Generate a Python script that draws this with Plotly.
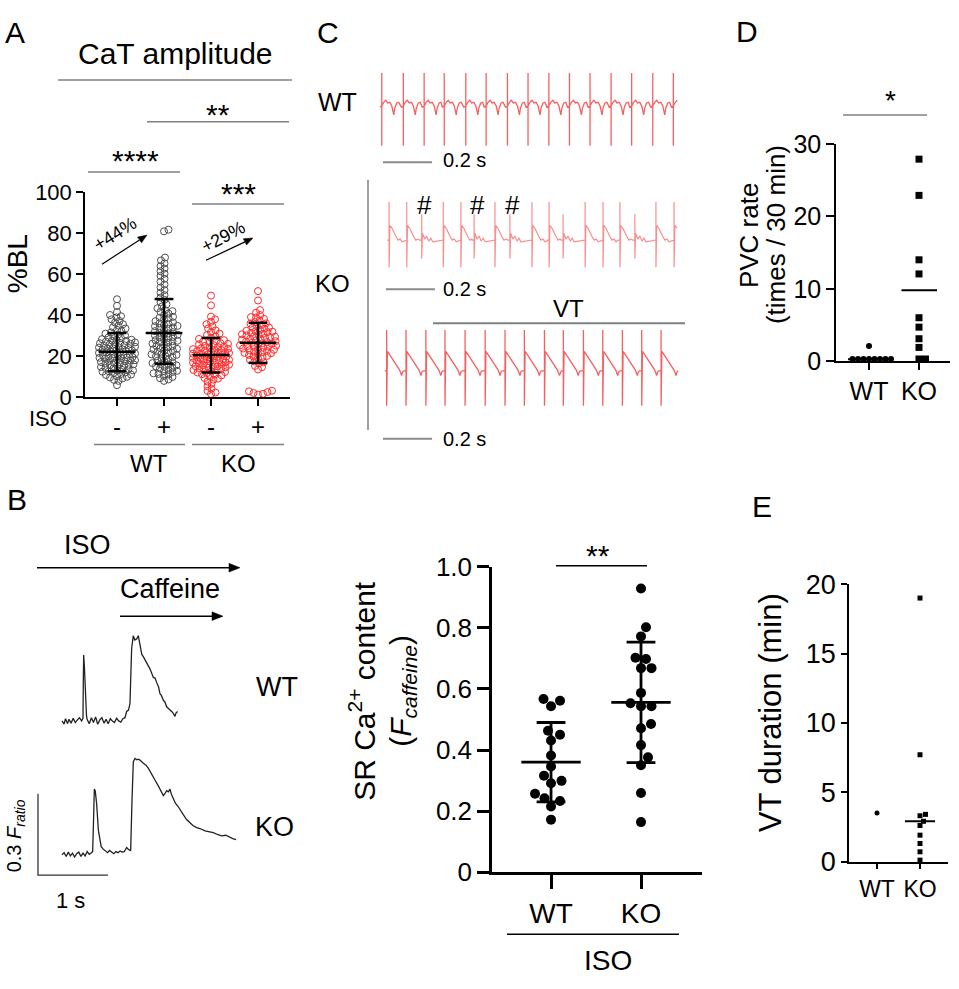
import math
import plotly.graph_objects as go

W, H = 959, 989
FONT = "Arial, 'Liberation Sans', sans-serif"

# ---------------- DATA ----------------
# Panel A: CaT amplitude (%BL)
a_groups = ["WT -", "WT +", "KO -", "KO +"]
a_iso = ["-", "+", "-", "+"]
a_wt_minus = [5.8, 7.9, 8.4, 9.1, 9.6, 9.9, 10.2, 10.8, 11.0, 11.3, 11.7, 12.1, 12.4, 12.6, 12.9, 13.0, 13.3, 13.6,
              14.0, 14.2, 14.7, 15.1, 15.3, 15.6, 15.8, 16.0, 16.4, 16.6, 16.9, 17.1, 17.4, 17.6, 17.8, 18.0, 18.3,
              18.7, 18.9, 19.0, 19.2, 19.4, 19.6, 19.9, 20.2, 20.5, 20.7, 20.9, 21.0, 21.3, 21.6, 21.8, 21.9, 22.2,
              22.4, 22.6, 22.8, 23.0, 23.3, 23.7, 23.9, 24.0, 24.2, 24.4, 24.6, 25.0, 25.3, 25.6, 25.8, 26.0, 26.3,
              26.5, 26.7, 27.1, 27.4, 27.6, 27.9, 28.0, 28.3, 28.8, 29.2, 29.7, 30.1, 30.6, 31.0, 31.6, 32.2, 32.8,
              33.5, 34.1, 34.9, 35.6, 36.4, 37.2, 38.0, 38.9, 39.5, 40.1, 41.5, 44.6, 47.8]
a_wt_plus = [7.9, 8.6, 9.2, 9.8, 10.3, 11.0, 11.3, 11.6, 12.2, 12.6, 12.8, 13.3, 13.9, 14.4, 14.8, 15.0, 15.5, 15.9,
             16.1, 16.6, 17.0, 17.2, 17.8, 18.3, 18.9, 19.5, 19.9, 20.0, 20.6, 20.9, 21.1, 21.7, 22.2, 22.5, 22.8,
             23.3, 23.6, 23.9, 24.4, 24.9, 25.0, 25.5, 26.1, 26.6, 26.9, 27.2, 27.5, 27.8, 28.3, 28.9, 29.1, 29.4,
             30.0, 30.4, 30.6, 31.1, 31.4, 31.7, 32.2, 32.8, 33.4, 33.8, 34.0, 34.6, 34.8, 35.2, 35.8, 36.0, 36.5,
             37.1, 37.8, 38.5, 38.8, 39.2, 40.0, 40.8, 41.6, 42.0, 42.5, 43.4, 44.3, 45.3, 46.4, 47.5, 48.6, 49.8,
             51.0, 52.3, 53.6, 55.0, 56.4, 57.8, 59.2, 60.3, 61.5, 62.8, 64.0, 65.3, 66.8, 68.2, 81.0, 81.8]
a_ko_minus = [1.5, 2.2, 3.0, 4.1, 5.3, 6.5, 7.6, 8.5, 9.0, 9.3, 10.0, 10.6, 10.9, 11.2, 11.7, 12.0, 12.2, 12.6, 13.0,
              13.2, 13.4, 13.8, 14.1, 14.3, 14.5, 14.8, 15.0, 15.1, 15.5, 15.8, 16.1, 16.2, 16.4, 16.7, 16.9, 17.0,
              17.3, 17.6, 17.8, 17.9, 18.2, 18.4, 18.5, 18.8, 19.0, 19.1, 19.4, 19.7, 19.9, 20.0, 20.3, 20.6, 20.8,
              20.9, 21.2, 21.4, 21.5, 21.8, 21.9, 22.1, 22.4, 22.7, 22.9, 23.0, 23.4, 23.6, 23.8, 24.2, 24.4, 24.6,
              25.0, 25.4, 25.8, 26.0, 26.3, 26.8, 27.0, 27.3, 27.8, 28.4, 29.0, 29.6, 30.3, 31.0, 31.8, 32.6, 33.5,
              34.5, 35.6, 36.8, 38.0, 39.3, 44.8, 49.6]
a_ko_plus = [1.2, 1.6, 2.0, 2.4, 2.8, 3.1, 13.5, 14.6, 15.2, 16.5, 17.0, 17.4, 18.2, 18.9, 19.5, 19.8, 20.1, 20.6,
             21.1, 21.4, 21.6, 22.0, 22.2, 22.5, 22.9, 23.1, 23.3, 23.7, 24.1, 24.5, 24.7, 24.9, 25.1, 25.3, 25.7,
             26.1, 26.3, 26.5, 26.9, 27.0, 27.3, 27.7, 28.1, 28.3, 28.5, 28.9, 29.3, 29.5, 29.7, 30.1, 30.5, 30.7,
             30.9, 31.4, 31.7, 31.9, 32.2, 32.4, 32.9, 33.4, 33.9, 34.0, 34.6, 35.2, 35.9, 36.0, 36.6, 37.4, 38.2,
             38.9, 39.1, 40.1, 41.2, 42.5, 47.2, 51.8]
a_mean = [22.1, 31.3, 20.5, 26.5]
a_sd_hi = [31.3, 47.9, 28.9, 36.3]
a_sd_lo = [12.6, 16.3, 12.0, 16.7]
a_ticks = [0, 20, 40, 60, 80, 100]

# Panel B (left): caffeine-induced Ca transients (time s, F ratio above baseline)
b_wt_t = [0.00, 0.03, 0.05, 0.08, 0.10, 0.13, 0.16, 0.19, 0.22, 0.25, 0.28, 0.30, 0.305, 0.31, 0.32, 0.335, 0.35,
          0.36, 0.39, 0.42, 0.45, 0.48, 0.51, 0.54, 0.57, 0.60, 0.63, 0.66, 0.69, 0.72, 0.75, 0.78, 0.81, 0.84, 0.87,
          0.90, 0.924, 0.95, 0.971, 0.995, 1.019, 1.04, 1.067, 1.09, 1.114, 1.14, 1.162, 1.19, 1.233, 1.26, 1.305,
          1.33, 1.352, 1.38, 1.40, 1.42, 1.448, 1.47, 1.495, 1.53, 1.567, 1.59, 1.614, 1.63, 1.652]
b_wt_f = [0.00, -0.012, 0.008, -0.01, 0.006, -0.008, 0.01, -0.006, 0.004, 0.012, 0.0, 0.01, 0.16, 0.243, 0.20, 0.06,
          0.02, 0.005, -0.01, 0.012, -0.006, 0.015, -0.012, 0.004, 0.012, -0.008, 0.006, -0.01, 0.008, 0.0, -0.006,
          0.01, 0.0, -0.004, 0.008, 0.012, 0.035, 0.04, 0.064, 0.267, 0.314, 0.298, 0.302, 0.314, 0.275, 0.245,
          0.237, 0.225, 0.202, 0.19, 0.160, 0.158, 0.142, 0.125, 0.100, 0.094, 0.076, 0.07, 0.052, 0.045, 0.035,
          0.028, 0.017, 0.03, 0.035]
b_ko_t = [0.00, 0.03, 0.06, 0.09, 0.12, 0.15, 0.18, 0.21, 0.24, 0.27, 0.30, 0.33, 0.36, 0.39, 0.42, 0.438, 0.45,
          0.462, 0.475, 0.495, 0.52, 0.543, 0.56, 0.59, 0.62, 0.65, 0.68, 0.71, 0.74, 0.77, 0.80, 0.83, 0.86, 0.89,
          0.924, 0.95, 0.981, 1.0, 1.019, 1.043, 1.07, 1.09, 1.114, 1.162, 1.20, 1.233, 1.27, 1.305, 1.34, 1.376,
          1.41, 1.448, 1.47, 1.495, 1.52, 1.543, 1.56, 1.59, 1.62, 1.662, 1.70, 1.733, 1.78, 1.829, 1.87, 1.924,
          1.98, 2.043, 2.10, 2.162, 2.22, 2.281, 2.34, 2.40, 2.44, 2.486]
b_ko_f = [0.0, 0.008, -0.006, 0.01, -0.004, 0.006, -0.008, 0.004, 0.01, -0.006, 0.006, -0.004, 0.012, 0.002, 0.008,
          0.012, 0.12, 0.242, 0.235, 0.188, 0.09, 0.045, 0.03, 0.021, 0.014, 0.008, 0.016, 0.01, 0.004, 0.012, 0.008,
          0.014, 0.01, 0.012, 0.027, 0.02, 0.015, 0.2, 0.343, 0.355, 0.35, 0.352, 0.349, 0.337, 0.33, 0.319, 0.30,
          0.283, 0.27, 0.254, 0.235, 0.218, 0.225, 0.236, 0.232, 0.242, 0.225, 0.206, 0.19, 0.177, 0.16, 0.148,
          0.13, 0.118, 0.108, 0.100, 0.096, 0.088, 0.084, 0.082, 0.075, 0.070, 0.072, 0.064, 0.06, 0.056]
b_scale_s = 1.0
b_scale_f = 0.3

# Panel B (right): SR Ca content
b_cats = ["WT", "KO"]
b_wt = [0.567, 0.543, 0.561, 0.450, 0.431, 0.463, 0.382, 0.346, 0.316, 0.299, 0.291, 0.257, 0.242, 0.233, 0.215, 0.172]
b_ko = [0.929, 0.802, 0.772, 0.698, 0.702, 0.668, 0.668, 0.587, 0.553, 0.543, 0.543, 0.471, 0.485, 0.416, 0.376,
        0.350, 0.259, 0.164]
b_mean = [0.360, 0.556]
b_sd = [0.130, 0.197]
b_ticks = [0, 0.2, 0.4, 0.6, 0.8, 1.0]
b_ticktext = ["0", "0.2", "0.4", "0.6", "0.8", "1.0"]

# Panel C: ECG (beat times in ms, beat waveform templates in ms / mV)
c_wt_beats = [7, 95, 180, 262, 350, 433, 520, 604, 689, 773, 857, 943, 1027, 1113, 1197]
c_wt_end = 1220
c_wt_tpl_ms = [-8, 0, 0, 0, 0, 8, 16, 24, 33, 41, 49, 53, 61, 69, 74]
c_wt_tpl_mv = [-0.03, 0.0, 0.97, -1.17, 0.0, 0.11, 0.17, 0.09, 0.11, 0.0, -0.26, -0.06, 0.09, 0.11, 0.03]

c_ko1_beats = [37, 109, 170, 258, 330, 384, 469, 530, 620, 690, 747, 837, 910, 979, 1040, 1126, 1200]
c_ko1_types = ["N", "N", "P", "N", "N", "P", "N", "P", "N", "N", "P", "N", "N", "N", "P", "N", "N"]
c_ko1_pvc = [170, 384, 530]
c_ko1_end = 1220
c_ko1_n_ms = [-8, 0, 0, 0, 3, 12, 20, 29, 37, 45, 53, 61, 69]
c_ko1_n_mv = [-0.06, -0.06, 1.06, -0.86, 0.37, 0.29, 0.14, 0.03, -0.06, -0.03, -0.11, -0.09, -0.14]
c_ko1_p_ms = [-8, 0, 0, 0, 3, 12, 20, 29, 37, 45]
c_ko1_p_mv = [-0.06, -0.06, 0.70, -0.60, 0.14, -0.03, 0.06, -0.09, 0.0, -0.11]

c_ko2_beats = [27, 106, 187, 265, 347, 429, 510, 589, 671, 748, 830, 909, 989, 1068, 1147]
c_ko2_end = 1220
c_ko2_tpl_ms = [-8, 0, 0, 0, 3, 16, 29, 41, 53, 61, 65, 70]
c_ko2_tpl_mv = [0.0, 0.0, 1.2, -1.03, 0.57, 0.43, 0.29, 0.14, 0.02, -0.14, -0.03, 0.0]
c_scale_ms = 200

# Panel D: PVC rate
d_cats = ["WT", "KO"]
d_wt = [2.1, 0.3, 0.3, 0.3, 0.3, 0.3, 0.3, 0.3, 0.3]
d_ko = [27.9, 22.9, 14.0, 12.05, 6.0, 4.7, 3.1, 1.9, 0.3, 0.3]
d_center = [0.25, 9.8]
d_ticks = [0, 10, 20, 30]

# Panel E: VT duration
e_cats = ["WT", "KO"]
e_wt = [3.5]
e_ko = [19.0, 7.7, 3.4, 3.3, 2.9, 2.6, 1.9, 1.3, 0.7, 0.1]
e_center_ko = 2.9
e_ticks = [0, 5, 10, 15, 20]


# ---------------- helpers ----------------
def swarm(vals, d, ppu, lim=60.0, step=0.5):
    """deterministic beeswarm; returns horizontal offsets in px"""
    order = sorted(range(len(vals)), key=lambda i: (vals[i], i))
    cands = [0.0]
    k = 1
    while k * step <= lim:
        cands += [k * step, -k * step]
        k += 1
    placed = []
    offs = [0.0] * len(vals)
    for i in order:
        y = vals[i] * ppu
        near = [(yy, xx) for yy, xx in placed if abs(yy - y) < d]
        chosen, best, bestc = None, -1, 0.0
        for c in cands:
            md = min((((c - xx) ** 2 + (y - yy) ** 2) ** 0.5 for yy, xx in near), default=1e9)
            if md >= d:
                chosen = c
                break
            if md > best:
                best, bestc = md, c
        if chosen is None:
            chosen = bestc
        placed.append((y, chosen))
        offs[i] = chosen
    return offs


def build_ecg(beats, tpls, types, t_end):
    xs, ys = [], []
    for k, b in enumerate(beats):
        nxt = beats[k + 1] if k + 1 < len(beats) else t_end + 8
        ms, mv = tpls[types[k]]
        for dt, v in zip(ms, mv):
            if b + dt < nxt - 8 or dt <= 0:
                xs.append(b + dt)
                ys.append(v)
    return xs, ys


annotations, shapes = [], []


def P(x, y):
    return x / W, 1 - y / H


def txt(x, y, s, size, angle=0, color="black", xanchor="center"):
    annotations.append(dict(x=x / W, y=1 - y / H, xref="paper", yref="paper", text=s, showarrow=False,
                            font=dict(size=size, color=color, family=FONT), textangle=angle,
                            xanchor=xanchor, yanchor="middle"))


def hline(x0, x1, y, color="#808080", width=1.5):
    shapes.append(dict(type="line", xref="paper", yref="paper", x0=x0 / W, x1=x1 / W, y0=1 - y / H, y1=1 - y / H,
                       line=dict(color=color, width=width)))


def vline(x, y0, y1, color="#808080", width=1.5):
    shapes.append(dict(type="line", xref="paper", yref="paper", x0=x / W, x1=x / W, y0=1 - y0 / H, y1=1 - y1 / H,
                       line=dict(color=color, width=width)))


def arrow(x0, y0, x1, y1, width=1.2, hl=9.0, hw=3.6):
    L = math.hypot(x1 - x0, y1 - y0)
    ux, uy = (x1 - x0) / L, (y1 - y0) / L
    bx, by = x1 - ux * hl, y1 - uy * hl
    shapes.append(dict(type="line", xref="paper", yref="paper", x0=x0 / W, y0=1 - y0 / H, x1=bx / W, y1=1 - by / H,
                       line=dict(color="black", width=width)))
    p1 = P(x1, y1)
    p2 = P(bx - uy * hw, by + ux * hw)
    p3 = P(bx + uy * hw, by - ux * hw)
    path = "M {:.5f} {:.5f} L {:.5f} {:.5f} L {:.5f} {:.5f} Z".format(p1[0], p1[1], p2[0], p2[1], p3[0], p3[1])
    shapes.append(dict(type="path", xref="paper", yref="paper", path=path, fillcolor="black",
                       line=dict(color="black", width=0.5)))


def err_lines(centers, means, lo, hi, hw_mean, hw_cap):
    xs, ys = [], []
    for c, m, l, h in zip(centers, means, lo, hi):
        xs += [c - hw_mean, c + hw_mean, None, c, c, None, c - hw_cap, c + hw_cap, None, c - hw_cap, c + hw_cap, None]
        ys += [m, m, None, l, h, None, l, l, None, h, h, None]
    return xs, ys


fig = go.Figure()

# ---------------- Panel A ----------------
A_PPX, A_PPY = 47.0, 2.11
a_series = [a_wt_minus, a_wt_plus, a_ko_minus, a_ko_plus]
a_colors = ["#505050", "#505050", "#ff2a2a", "#ff2a2a"]
for gi, vals in enumerate(a_series):
    offs = swarm(vals, 4.6, A_PPY, lim=18)
    fig.add_trace(go.Scatter(x=[gi + o / A_PPX for o in offs], y=vals, mode="markers", xaxis="x", yaxis="y",
                             cliponaxis=False,
                             marker=dict(symbol="circle-open", size=7, color=a_colors[gi], line=dict(width=1)),
                             hoverinfo="skip"))
ex, ey = err_lines(range(4), a_mean, a_sd_lo, a_sd_hi, 0.39, 0.2)
fig.add_trace(go.Scatter(x=ex, y=ey, mode="lines", xaxis="x", yaxis="y", line=dict(color="black", width=2.5),
                         hoverinfo="skip"))

# ---------------- Panel B (traces) ----------------
wt_off, ko_off = 0.614, 0.121
fig.add_trace(go.Scatter(x=b_wt_t, y=[f + wt_off for f in b_wt_f], mode="lines", xaxis="x2", yaxis="y2",
                         line=dict(color="#222222", width=1.3), hoverinfo="skip"))
fig.add_trace(go.Scatter(x=b_ko_t, y=[f + ko_off for f in b_ko_f], mode="lines", xaxis="x2", yaxis="y2",
                         line=dict(color="#222222", width=1.3), hoverinfo="skip"))
sb_t0, sb_f0 = -0.343, 0.046
fig.add_trace(go.Scatter(x=[sb_t0, sb_t0, sb_t0 + b_scale_s], y=[sb_f0 + b_scale_f, sb_f0, sb_f0], mode="lines",
                         xaxis="x2", yaxis="y2", line=dict(color="#333333", width=1.3), hoverinfo="skip"))

# ---------------- Panel B (scatter) ----------------
B_PPX, B_PPY = 90.0, 315.0
for gi, vals in enumerate([b_wt, b_ko]):
    offs = swarm(vals, 10.5, B_PPY, lim=40)
    fig.add_trace(go.Scatter(x=[gi + o / B_PPX for o in offs], y=vals, mode="markers", xaxis="x3", yaxis="y3",
                             cliponaxis=False, marker=dict(symbol="circle", size=10, color="black"),
                             hoverinfo="skip"))
ex, ey = err_lines(range(2), b_mean, [m - s for m, s in zip(b_mean, b_sd)], [m + s for m, s in zip(b_mean, b_sd)],
                   0.33, 0.16)
fig.add_trace(go.Scatter(x=ex, y=ey, mode="lines", xaxis="x3", yaxis="y3", line=dict(color="black", width=2.8),
                         hoverinfo="skip"))

# ---------------- Panel C (ECG) ----------------
ECG_COL = "rgba(242,55,55,0.8)"
row_wt, row_ko1, row_ko2 = 10.03, 6.14, 2.23
xs, ys = build_ecg(c_wt_beats, {"N": (c_wt_tpl_ms, c_wt_tpl_mv)}, ["N"] * len(c_wt_beats), c_wt_end)
fig.add_trace(go.Scatter(x=xs, y=[v + row_wt for v in ys], mode="lines", xaxis="x4", yaxis="y4",
                         line=dict(color=ECG_COL, width=1.3), hoverinfo="skip"))
xs, ys = build_ecg(c_ko1_beats, {"N": (c_ko1_n_ms, c_ko1_n_mv), "P": (c_ko1_p_ms, c_ko1_p_mv)}, c_ko1_types,
                   c_ko1_end)
fig.add_trace(go.Scatter(x=xs, y=[v + row_ko1 for v in ys], mode="lines", xaxis="x4", yaxis="y4",
                         line=dict(color="rgba(245,80,80,0.65)", width=1.2), hoverinfo="skip"))
xs, ys = build_ecg(c_ko2_beats, {"N": (c_ko2_tpl_ms, c_ko2_tpl_mv)}, ["N"] * len(c_ko2_beats), c_ko2_end)
fig.add_trace(go.Scatter(x=xs, y=[v + row_ko2 for v in ys], mode="lines", xaxis="x4", yaxis="y4",
                         line=dict(color=ECG_COL, width=1.3), hoverinfo="skip"))
for x0, yb in [(12, 8.37), (24, 4.63), (12, 0.23)]:
    fig.add_trace(go.Scatter(x=[x0, x0 + c_scale_ms], y=[yb, yb], mode="lines", xaxis="x4", yaxis="y4",
                             line=dict(color="#8a8a8a", width=2), hoverinfo="skip"))
for b in c_ko1_pvc:
    annotations.append(dict(x=b + 12, y=row_ko1 + 0.97, xref="x4", yref="y4", text="#", showarrow=False,
                            font=dict(size=26, color="black", family=FONT)))

# ---------------- Panel D ----------------
D_PPX, D_PPY = 50.0, 224 / 30
offs = swarm(d_wt, 5.5, D_PPY, lim=25)
fig.add_trace(go.Scatter(x=[0 + o / D_PPX for o in offs], y=d_wt, mode="markers", xaxis="x5", yaxis="y5",
                         cliponaxis=False, marker=dict(symbol="circle", size=6, color="black"), hoverinfo="skip"))
offs = swarm(d_ko, 6.5, D_PPY, lim=25)
fig.add_trace(go.Scatter(x=[1 + o / D_PPX for o in offs], y=d_ko, mode="markers", xaxis="x5", yaxis="y5",
                         cliponaxis=False, marker=dict(symbol="square", size=7, color="black"), hoverinfo="skip"))
fig.add_trace(go.Scatter(x=[-0.42, 0.42, None, 0.65, 1.36], y=[d_center[0], d_center[0], None, d_center[1], d_center[1]],
                         mode="lines", xaxis="x5", yaxis="y5", line=dict(color="black", width=2), hoverinfo="skip"))

# ---------------- Panel E ----------------
E_PPX, E_PPY = 43.0, 286 / 20
fig.add_trace(go.Scatter(x=[0] * len(e_wt), y=e_wt, mode="markers", xaxis="x6", yaxis="y6", cliponaxis=False,
                         marker=dict(symbol="circle", size=5, color="black"), hoverinfo="skip"))
offs = swarm(e_ko, 5.5, E_PPY, lim=20)
fig.add_trace(go.Scatter(x=[1 + o / E_PPX for o in offs], y=e_ko, mode="markers", xaxis="x6", yaxis="y6",
                         cliponaxis=False, marker=dict(symbol="square", size=5, color="black"), hoverinfo="skip"))
fig.add_trace(go.Scatter(x=[0.65, 1.35], y=[e_center_ko, e_center_ko], mode="lines", xaxis="x6", yaxis="y6",
                         line=dict(color="black", width=2), hoverinfo="skip"))

# ---------------- Text / decorations ----------------
# Panel A
txt(15, 18, "A", 30)
txt(175, 40, "CaT amplitude", 30)
hline(58, 292, 67)
txt(218, 103, "**", 30)
hline(147, 289, 110)
txt(135, 150, "****", 30)
hline(88, 180, 162)
txt(238, 184, "***", 30)
hline(192, 284, 195)
txt(17, 257, "%BL", 28, angle=-90)
txt(48, 416, "ISO", 22)
hline(94, 185, 443)
hline(192, 284, 443)
txt(149, 463, "WT", 24)
txt(238, 463, "KO", 24)
txt(115, 226, "+44%", 18, angle=-32)
txt(223, 229, "+29%", 18, angle=-28)
arrow(102, 257, 147, 227)
arrow(206, 253, 253, 230)

# Panel B
txt(17, 500, "B", 30)
txt(87, 547, "ISO", 27)
arrow(37, 570, 240, 570, width=1.4, hl=11, hw=4.5)
txt(170, 592, "Caffeine", 27)
arrow(120, 620, 223, 620, width=1.4, hl=11, hw=4.5)
txt(277, 693, "WT", 27)
txt(274, 837, "KO", 27)
txt(15, 847, "0.3 <i>F<sub>ratio</sub></i>", 20, angle=-90)
txt(70, 913, "1 s", 22)
txt(362, 697, "SR Ca<sup>2+</sup> content", 30, angle=-90)
txt(403, 697, "(<i>F<sub>caffeine</sub></i>)", 30, angle=-90)
txt(598, 557, "**", 30)
hline(556, 647, 568, color="black", width=1.5)
hline(507, 679, 948, color="black", width=1.5)
txt(608, 975, "ISO", 28)

# Panel C
txt(328, 18, "C", 30)
txt(337, 90, "WT", 25)
txt(332, 277, "KO", 24)
vline(368, 170, 428)
for yy in (150, 283, 437):
    txt(441, yy, "0.2 s", 20, xanchor="left")
txt(568, 303, "VT", 24)
hline(433, 685, 318, width=2)

# Panel D
txt(747, 17, "D", 30)
txt(890, 88, "*", 28)
hline(843, 927, 103)
txt(749, 227, "PVC rate", 26, angle=-90)
txt(776, 227, "(times / 30 min)", 26, angle=-90)

# Panel E
txt(762, 507, "E", 30)
txt(770, 720, "VT duration (min)", 31, angle=-90)


def ax(**kw):
    d = dict(showgrid=False, zeroline=False, showline=True, linecolor="black", ticks="outside", tickcolor="black",
             fixedrange=True, tickfont=dict(family=FONT, color="black"))
    d.update(kw)
    return d


def dom_x(x0, x1):
    return [x0 / W, x1 / W]


def dom_y(top, bottom):
    return [1 - bottom / H, 1 - top / H]


fig.update_layout(
    width=W, height=H, margin=dict(l=0, r=0, t=0, b=0), paper_bgcolor="white", plot_bgcolor="rgba(0,0,0,0)",
    showlegend=False, font=dict(family=FONT, color="black"),
    xaxis=ax(domain=dom_x(85, 290), range=[-0.681, 3.681], tickvals=[0, 1, 2, 3], ticktext=a_iso, linewidth=1.5,
             tickwidth=1.5, ticklen=7, tickfont=dict(size=24, family=FONT, color="black"), anchor="y"),
    yaxis=ax(domain=dom_y(183, 394), range=[0, 100], tickvals=a_ticks, linewidth=1.5, tickwidth=1.5, ticklen=7,
             tickfont=dict(size=22, family=FONT, color="black"), anchor="x"),
    xaxis2=dict(domain=dom_x(30, 250), range=[-0.457, 2.686], visible=False, anchor="y2", fixedrange=True),
    yaxis2=dict(domain=dom_y(630, 900), range=[0, 0.964], visible=False, anchor="x2", fixedrange=True),
    xaxis3=ax(domain=dom_x(492, 702), range=[-0.656, 1.678], tickvals=[0, 1], ticktext=b_cats, linewidth=2.5,
              tickwidth=3, ticklen=14, tickfont=dict(size=28, family=FONT, color="black"), anchor="y3"),
    yaxis3=ax(domain=dom_y(569, 884), range=[0, 1], tickvals=b_ticks, ticktext=b_ticktext, linewidth=2.5,
              tickwidth=2.5, ticklen=12, tickfont=dict(size=26, family=FONT, color="black"), anchor="x3"),
    xaxis4=dict(domain=dom_x(370, 690), range=[-41, 1265], visible=False, anchor="y4", fixedrange=True),
    yaxis4=dict(domain=dom_y(55, 445), range=[0, 11.14], visible=False, anchor="x4", fixedrange=True),
    xaxis5=ax(domain=dom_x(836, 950), range=[-0.66, 1.62], tickvals=[0, 1], ticktext=d_cats, linewidth=1.5,
              tickwidth=1.5, ticklen=7, tickfont=dict(size=25, family=FONT, color="black"), anchor="y5"),
    yaxis5=ax(domain=dom_y(133, 357), range=[0, 30], tickvals=d_ticks, linewidth=1.5, tickwidth=1.5, ticklen=8,
              tickfont=dict(size=25, family=FONT, color="black"), anchor="x5"),
    xaxis6=ax(domain=dom_x(849, 948), range=[-0.651, 1.651], tickvals=[0, 1], ticktext=e_cats, linewidth=1.5,
              tickwidth=1.5, ticklen=6, tickfont=dict(size=23, family=FONT, color="black"), anchor="y6"),
    yaxis6=ax(domain=dom_y(587, 873), range=[0, 20], tickvals=e_ticks, linewidth=1.5, tickwidth=1.5, ticklen=6,
              tickfont=dict(size=27, family=FONT, color="black"), anchor="x6"),
    annotations=annotations, shapes=shapes,
)

POST = ("var gd=document.getElementById('{plot_id}');"
        "gd.style.position='fixed';gd.style.top='0px';gd.style.left='0px';"
        "document.body.style.margin='0px';document.body.style.padding='0px';"
        "document.documentElement.style.overflow='hidden';document.body.style.overflow='hidden';")
fig.write_html("out.html", config={"displayModeBar": False}, post_script=POST)
